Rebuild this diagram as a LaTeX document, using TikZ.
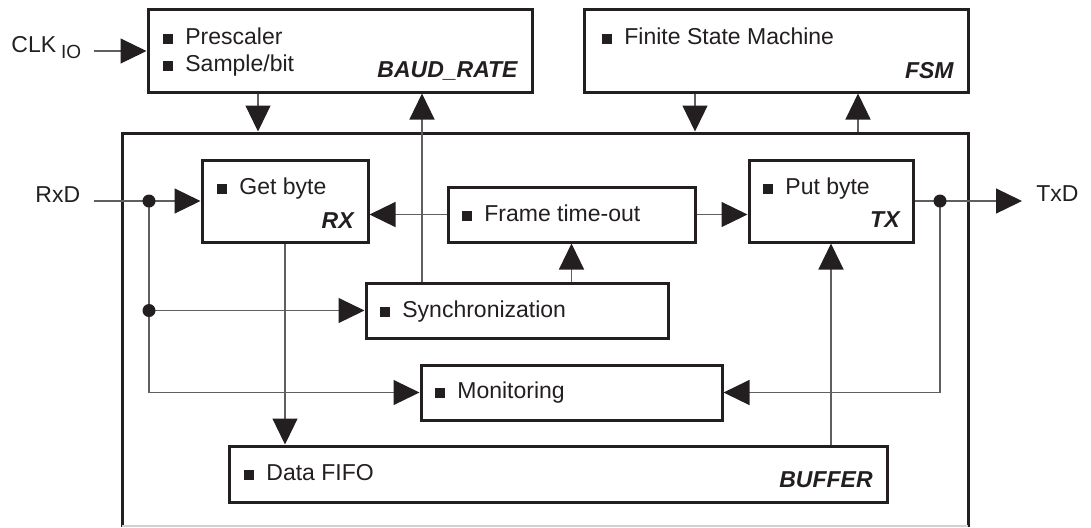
\documentclass[tikz,border=0pt]{standalone}
\usepackage{fontspec}
\setmainfont{Liberation Sans}
\usetikzlibrary{arrows.meta}
\definecolor{ink}{RGB}{35,31,32}
\definecolor{conn}{RGB}{95,95,95}
\newcommand\blt{\rule{5pt}{5pt}\hspace{6pt}}
\begin{document}
\begin{tikzpicture}[x=0.5pt,y=-0.5pt,
  blk/.style={draw=ink, line width=1.5pt, inner sep=0pt, fill=white},
  lbl/.style={inner sep=0pt, text=ink, font=\fontsize{11.5}{13.8}\selectfont},
  tag/.style={lbl, font=\fontsize{11.5}{13.8}\selectfont\bfseries\itshape, anchor=base east},
  item/.style={lbl, anchor=base west},
  wire/.style={draw=conn, line width=0.6pt},
  arr/.style={wire, -{Triangle[length=13pt, width=12.5pt, color=ink, fill=ink]}},
  dot/.style={fill=ink}]
\useasboundingbox (0,0) rectangle (1091,527);

% outer frame
\node[draw=none, line width=1.5pt, inner sep=0pt, minimum width=423pt, minimum height=196.5pt] (outer) at (545,329.5) {};
\draw[draw=ink, line width=1.5pt] (122,527) -- (122,133) -- (968,133) -- (968,527);
\draw[draw=black!18, line width=0.6pt] (122,526) -- (968,526);

% blocks
\node[blk, minimum width=192pt, minimum height=41.5pt] (baud) at (340,50.5) {};
\node[blk, minimum width=192pt, minimum height=41.5pt] (fsm) at (776,50.5) {};
\node[blk, minimum width=83pt, minimum height=41pt] (rx) at (285,201) {};
\node[blk, minimum width=123.5pt, minimum height=27.5pt] (frame) at (571.5,214.5) {};
\node[blk, minimum width=82pt, minimum height=41pt] (tx) at (831,201) {};
\node[blk, minimum width=151pt, minimum height=27.5pt] (sync) at (517,310.5) {};
\node[blk, minimum width=150.5pt, minimum height=27.5pt] (mon) at (571.5,392.5) {};
\node[blk, minimum width=329pt, minimum height=28pt] (fifo) at (558,474) {};

% texts in blocks
\node[item] (t1) at (163,44) {\blt Prescaler};
\node[item] (t2) at (163,71) {\blt Sample/bit};
\node[tag] (t3) at (518,77) {BAUD\_RATE};
\node[item] (t4) at (602,44) {\blt Finite State Machine};
\node[tag] (t5) at (954,78) {FSM};
\node[item] (t6) at (217,194) {\blt Get byte};
\node[tag] (t7) at (354,228) {RX};
\node[item] (t8) at (462,221) {\blt Frame time-out};
\node[item] (t9) at (763,194) {\blt Put byte};
\node[tag] (t10) at (900,227) {TX};
\node[item] (t11) at (380,317) {\blt Synchronization};
\node[item] (t12) at (435,398) {\blt Monitoring};
\node[item] (t13) at (244,480) {\blt Data FIFO};
\node[tag] (t14) at (873,487) {BUFFER};

% outside labels
\node[item] (clk) at (11,52) {CLK\hspace{2.5pt}\raisebox{-3pt}{\fontsize{9.5}{10}\selectfont IO}};
\node[item] (rxd) at (35,202) {RxD};
\node[item] (txd) at (1036,201) {TxD};

% helper coordinates
\coordinate (clkin) at (94,51);
\coordinate (rxin) at (94,201);
\coordinate (txout) at (1022,201);
\coordinate (xA) at (258,0);
\coordinate (xB) at (422,0);
\coordinate (xD) at (695,0);
\coordinate (xE) at (858,0);
\coordinate (d1) at (149,201);
\coordinate (d2) at (d1 |- sync.west);
\coordinate (d3) at (d1 |- mon.west);
\coordinate (d4) at (940,201);
\coordinate (d5) at (d4 |- mon.east);

% connectors
\draw[arr] (clkin) -- (clkin -| baud.west);
\draw[arr] (baud.south -| xA) -- (outer.north -| xA);
\draw[arr] (sync.north -| xB) -- (baud.south -| xB);
\draw[arr] (fsm.south -| xD) -- (outer.north -| xD);
\draw[arr] (outer.north -| xE) -- (fsm.south -| xE);

\draw[arr] (rxin) -- (rx.west);
\draw[wire] (d1) -- (d3);
\draw[arr] (d2) -- (sync.west);
\draw[arr] (d3) -- (mon.west);

\draw[arr] (frame.west) -- (rx.east |- frame.west);
\draw[arr] (frame.east) -- (tx.west |- frame.east);
\draw[arr] (sync.north -| frame.south) -- (frame.south);

\draw[arr] (rx.south) -- (fifo.north -| rx.south);
\draw[arr] (fifo.north -| tx.south) -- (tx.south);

\draw[arr] (tx.east) -- (txout);
\draw[wire] (d4) -- (d5);
\draw[arr] (d5) -- (mon.east);

\fill[dot] (d1) circle (3.25pt);
\fill[dot] (d2) circle (3.25pt);
\fill[dot] (d4) circle (3.25pt);
\end{tikzpicture}
\end{document}
